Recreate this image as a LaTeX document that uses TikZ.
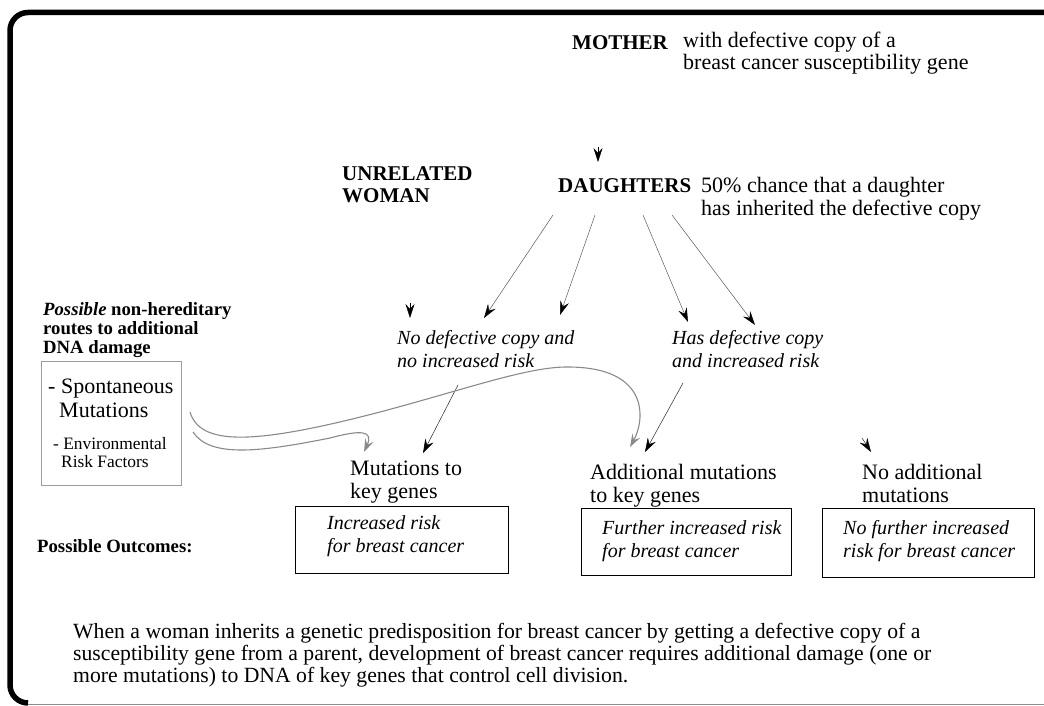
\documentclass[tikz,border=0pt]{standalone}
\IfFileExists{pplr8t.tfm}{%
  \usepackage[T1]{fontenc}\renewcommand{\rmdefault}{ppl}}{%
  \usepackage{fontspec}\setmainfont{Liberation Serif}}
\usepackage{tikz}
\usetikzlibrary{positioning, arrows.meta, calc}
\definecolor{curvegray}{HTML}{8A8A8A}
\definecolor{boxgray}{HTML}{9C9C9C}

\tikzset{
  txt/.style={inner sep=0pt, anchor=base west, align=left, font=\fontsize{22}{22.5}\selectfont},
  head/.style={txt, font=\fontsize{21}{22}\selectfont\bfseries},
  note/.style={txt, font=\fontsize{18.7}{19}\selectfont\bfseries},
  ital/.style={txt, font=\fontsize{20}{22.5}\selectfont\itshape},
  small/.style={txt, font=\fontsize{17.4}{18}\selectfont},
  outbox/.style={draw, line width=0.9pt, anchor=north west, inner sep=0pt},
  tip/.style={-{Stealth[length=14pt, width=9pt, inset=5pt, color=black]}},
  arr/.style={tip, black!65, line width=0.5pt},
  grayarr/.style={-{Stealth[length=13pt, width=9pt, inset=5pt]}, curvegray, line width=1.1pt},
}

\begin{document}
\begin{tikzpicture}[x=1pt, y=-1pt]
  \useasboundingbox (0,0) rectangle (1044,706);
  % frame
  \draw[line width=5.5pt, rounded corners=18pt] (1046,12.5) -- (10,12.5) -- (10,703) -- (28,703);
  \draw[black!45, line width=0.8pt] (28,704.5) -- (1044,704.5);

  % top of the tree (multi-line nodes sit on their last baseline)
  \node[head] (mother) at (572,50) {MOTHER};
  \node[txt] (motherTxt) at (683,70) {with defective copy of a\\breast cancer susceptibility gene};
  \node[head] (daughters) at (558,193) {DAUGHTERS};
  \node[txt] (daughtersTxt) at (701,215) {50\% chance that a daughter\\has inherited the defective copy};
  \node[head] (unrelated) at (342,202) {UNRELATED\\WOMAN};

  % middle row
  \node[ital] (noCopy) at (397,367) {No defective copy and\\no increased risk};
  \node[ital] (hasCopy) at (672,367) {Has defective copy\\and increased risk};

  % non-hereditary routes
  \node[note] (routes) at (43,353) {\textit{Possible} non-hereditary\\routes to additional\\DNA damage};
  \node[outbox, draw=boxgray, minimum width=140pt, minimum height=124pt] (srcBox) at (41,361) {};
  \node[txt, font=\fontsize{22}{24}\selectfont] (spont) at (48,417) {- Spontaneous\\\hspace*{11pt}Mutations};
  \node[small] (envir) at (53,467) {- Environmental\\\hspace*{8pt}Risk Factors};

  % outcomes
  \node[txt] (mutKey) at (350,498) {Mutations to\\key genes};
  \node[txt] (addMut) at (590,502) {Additional mutations\\to key genes};
  \node[txt] (noAdd) at (862,502) {No additional\\mutations};
  \node[note] (outcomes) at (37,552) {Possible Outcomes:};
  \node[outbox, minimum width=213pt, minimum height=67pt] (box1) at (295,506) {};
  \node[outbox, minimum width=210pt, minimum height=67pt] (box2) at (581,508) {};
  \node[outbox, minimum width=212pt, minimum height=69pt] (box3) at (822,508) {};
  \node[ital] (risk1) at (327,552) {Increased risk\\for breast cancer};
  \node[ital] (risk2) at (602,557) {Further increased risk\\for breast cancer};
  \node[ital] (risk3) at (843,557) {No further increased\\risk for breast cancer};

  \node[txt, font=\fontsize{21.7}{22}\selectfont] (summary) at (73,682) {When a woman inherits a genetic predisposition for breast cancer by getting a defective copy of a\\susceptibility gene from a parent, development of breast cancer requires additional damage (one or\\more mutations) to DNA of key genes that control cell division.};

  % connector ends
  \coordinate (m0) at (598,147);   \coordinate (m1) at (598,162);
  \coordinate (u0) at (410,303);   \coordinate (u1) at (410,318);
  \coordinate (n0) at (862,438);   \coordinate (n1) at (871,452);
  \coordinate (d1) at (553,215);   \coordinate (e1) at (484,318);
  \coordinate (d2) at (595,215);   \coordinate (e2) at (560,315);
  \coordinate (d3) at (643,215);   \coordinate (e3) at (688,322);
  \coordinate (d4) at (672,215);   \coordinate (e4) at (755,325);
  \coordinate (c1) at (458,385);   \coordinate (f1) at (423,453);
  \coordinate (c2) at (683,383);   \coordinate (f2) at (645,452);
  \coordinate (g1) at (190,412);   \coordinate (h1) at (630,447);
  \coordinate (g2) at (193,432);   \coordinate (h2) at (364,452);

  \draw[tip] (m0) -- (m1);
  \draw[tip] (u0) -- (u1);
  \draw[tip] (n0) -- (n1);
  \foreach \i in {1,...,4}
    \draw[arr] (d\i) -- (e\i);
  \draw[arr, black!85] (c1) -- (f1);
  \draw[arr, black!85] (c2) -- (f2);

  \draw[grayarr] (g1) .. controls (200,445) and (250,446) .. (380,412)
    .. controls (470,388) and (530,366) .. (570,367)
    .. controls (650,368) and (645,420) .. (h1);
  \draw[grayarr] (g2) .. controls (210,458) and (260,452) .. (330,438)
    .. controls (360,430) and (374,430) .. (h2);
\end{tikzpicture}
\end{document}
